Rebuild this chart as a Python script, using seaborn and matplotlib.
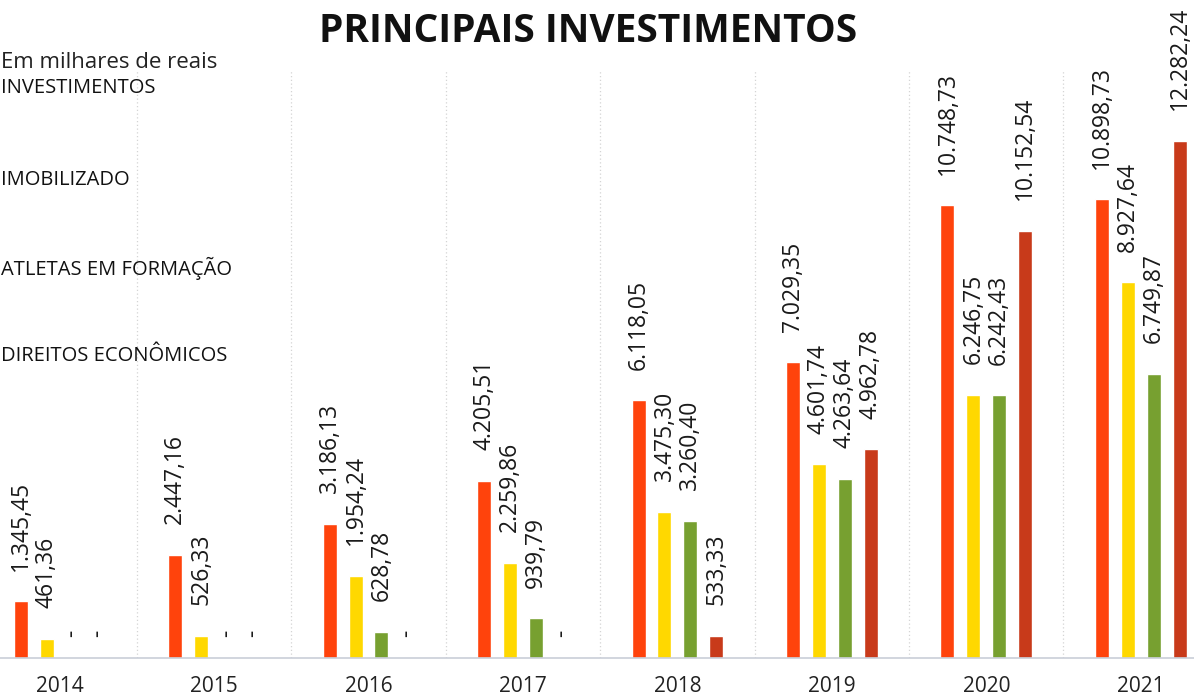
import pandas as pd
import matplotlib.pyplot as plt
import seaborn as sns

# Valores em milhares de reais
anos = ['2014', '2015', '2016', '2017', '2018', '2019', '2020', '2021']
investimentos = [1345.45, 2447.16, 3186.13, 4205.51, 6118.05, 7029.35, 10748.73, 10898.73]
imobilizado = [461.36, 526.33, 1954.24, 2259.86, 3475.30, 4601.74, 6246.75, 8927.64]
atletas_formacao = [0, 0, 628.78, 939.79, 3260.40, 4263.64, 6242.43, 6749.87]
direitos_economicos = [0, 0, 0, 0, 533.33, 4962.78, 10152.54, 12282.24]

series = ['INVESTIMENTOS', 'IMOBILIZADO', 'ATLETAS EM FORMAÇÃO', 'DIREITOS ECONÔMICOS']
cores = ['#ff430c', '#ffd800', '#77a030', '#c83a1a']

df = pd.DataFrame({
    'ano': anos * 4,
    'serie': [s for s in series for _ in anos],
    'valor': investimentos + imobilizado + atletas_formacao + direitos_economicos,
})


def formata(v):
    # formato brasileiro: 1.345,45
    if v == 0:
        return ''
    return f'{v:,.2f}'.replace(',', 'X').replace('.', ',').replace('X', '.')


sns.set_style('white')
plt.rcParams['font.family'] = ['Open Sans', 'DejaVu Sans']

fig = plt.figure(figsize=(11.94, 6.97), dpi=100)
ax = fig.add_axes([0, 39 / 697, 1, 658 / 697])

sns.barplot(data=df, x='ano', y='valor', hue='serie', order=anos, hue_order=series,
            palette=dict(zip(series, cores)), width=0.67, gap=0.46, ax=ax,
            legend=False, saturation=1)

for cont in ax.containers:
    alturas = [b.get_height() for b in cont]
    ax.bar_label(cont, labels=[formata(h) for h in alturas],
                 rotation=90, padding=22, fontsize=16.5, color='#1a1a1a')
    # valores zerados aparecem como traço
    ax.bar_label(cont, labels=['-' if h == 0 else '' for h in alturas],
                 rotation=90, padding=15, fontsize=16.5, color='#1a1a1a')

# linhas pontilhadas separando os anos
ax.vlines([i + 0.5 for i in range(len(anos) - 1)], 0, 13950, colors='#d4d4d4',
          linestyles=(0, (1, 2)), linewidth=0.9)

ax.set_xlim(-0.386, 7.345)
ax.set_ylim(0, 15630)
ax.set_xlabel('')
ax.set_ylabel('')
ax.set_yticks([])
ax.tick_params(axis='x', length=0, pad=13, labelsize=15, labelcolor='#222222')
sns.despine(ax=ax, left=True, top=True, right=True)
ax.spines['bottom'].set_color('#c9ced8')
ax.spines['bottom'].set_linewidth(1.2)

fig.text(588 / 1194, 1 - 32 / 697, 'PRINCIPAIS INVESTIMENTOS', ha='center', va='center',
         fontsize=28, fontweight='bold', color='#111111')

# legenda em texto no canto esquerdo
x0 = 1 / 1194
fig.text(x0, 1 - 62 / 697, 'Em milhares de reais', ha='left', va='center', fontsize=16, color='#222222')
posicoes = [88, 180, 268, 356]
for nome, y in zip(series, posicoes):
    fig.text(x0, 1 - y / 697, nome, ha='left', va='center', fontsize=14.5, color='#111111')

fig.savefig('out.png', dpi=100)
